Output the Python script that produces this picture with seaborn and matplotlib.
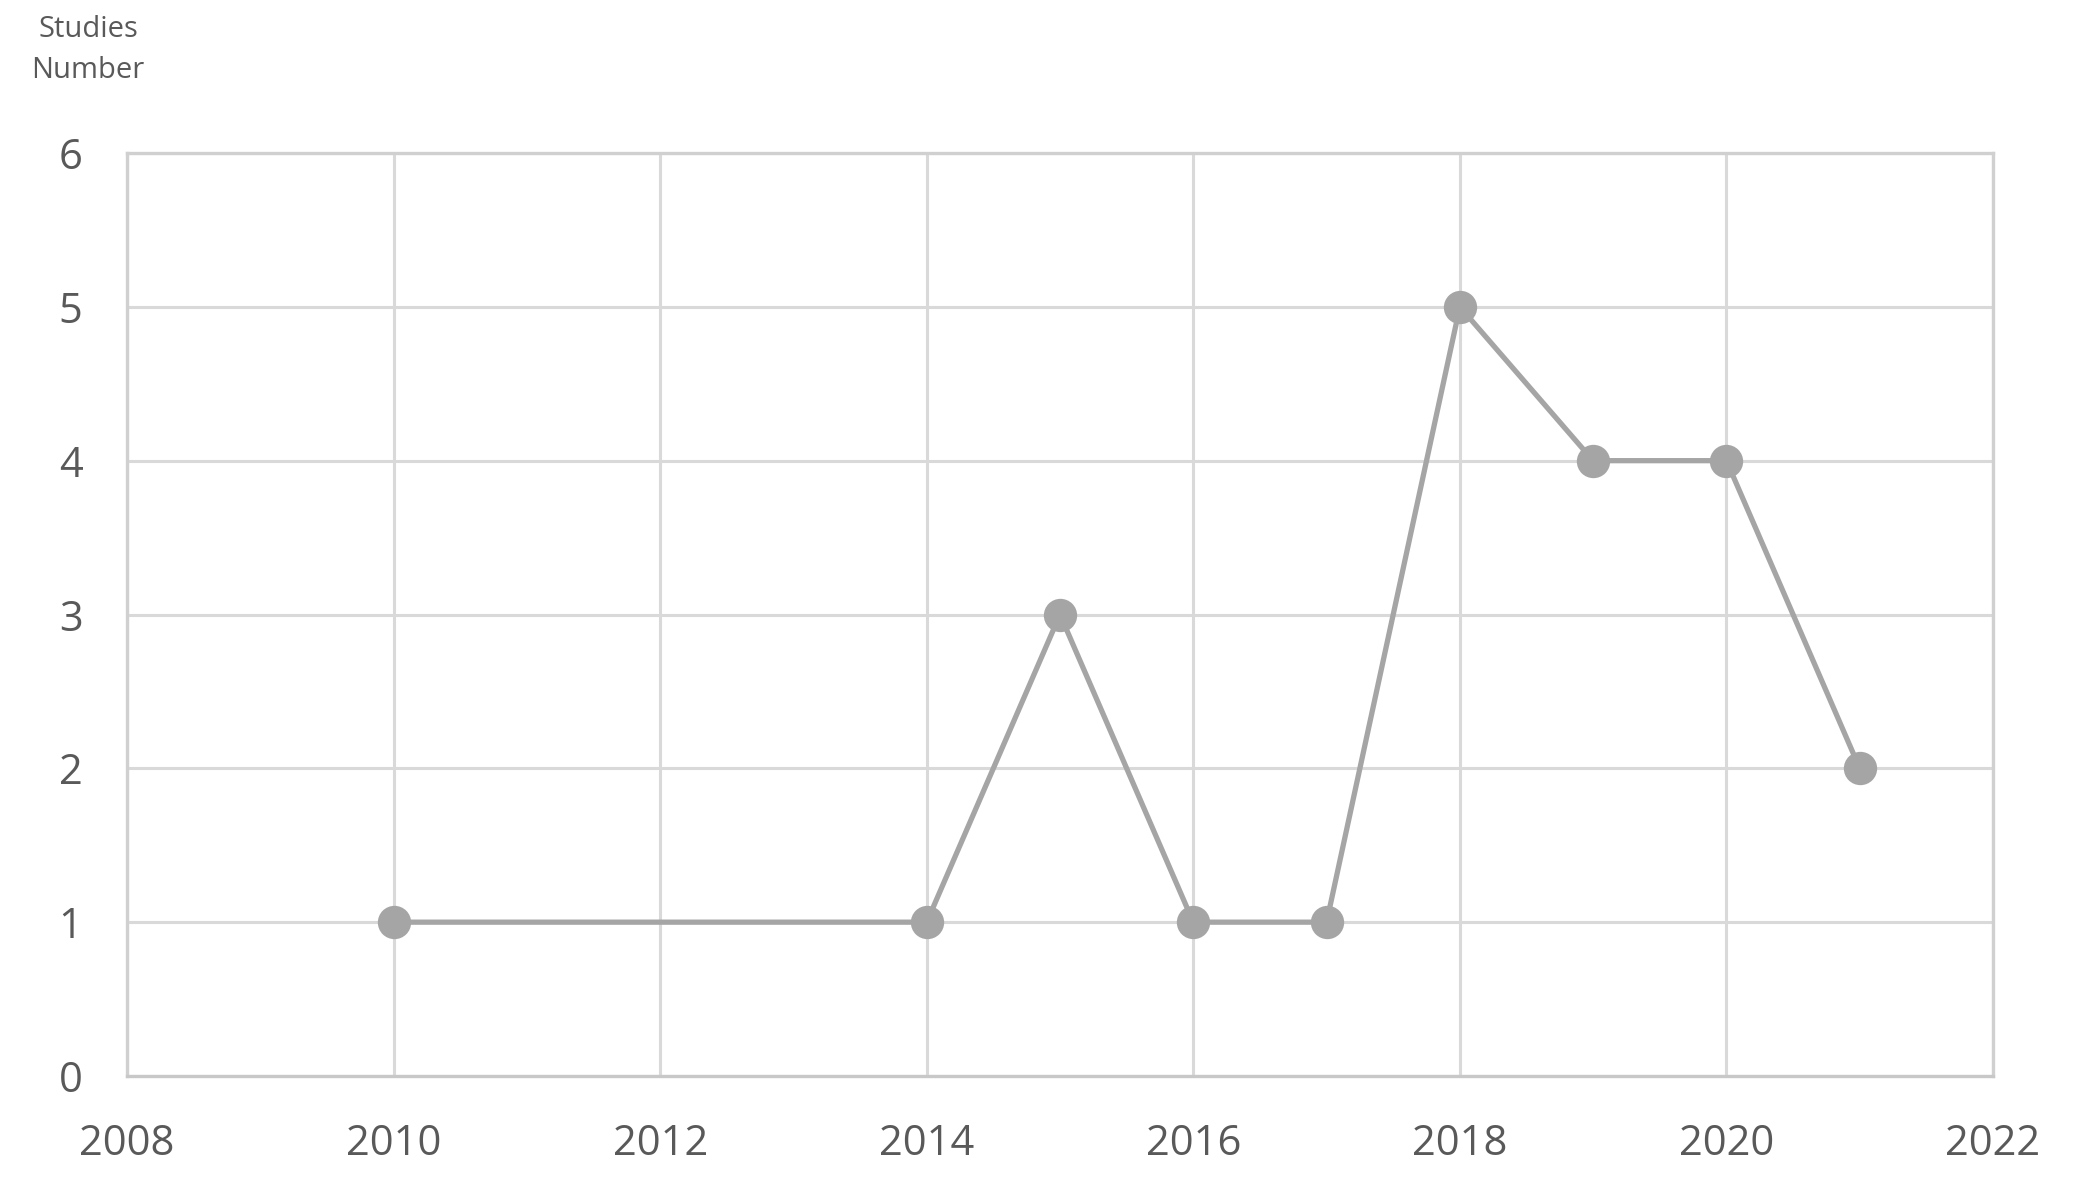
import matplotlib
matplotlib.use("Agg")
import matplotlib.pyplot as plt
import seaborn as sns
import pandas as pd

years = [2010, 2014, 2015, 2016, 2017, 2018, 2019, 2020, 2021]
studies = [1, 1, 3, 1, 1, 5, 4, 4, 2]
x_ticks = [2008, 2010, 2012, 2014, 2016, 2018, 2020, 2022]
y_ticks = [0, 1, 2, 3, 4, 5, 6]

sns.set_theme(style="white")
plt.rcParams['font.family'] = ['Open Sans', 'DejaVu Sans']

df = pd.DataFrame({"Year": years, "Studies": studies})

fig = plt.figure(figsize=(20.76, 11.83), dpi=100)
ax = fig.add_axes([127/2076, 1 - 1076/1183, (1993-127)/2076, (1076-153)/1183])

line_color = "#A5A5A5"
grid_color = "#D9D9D9"
text_color = "#595959"

sns.lineplot(data=df, x="Year", y="Studies", ax=ax, color=line_color,
             linewidth=3.8, marker="o", markersize=24, markeredgewidth=0,
             markerfacecolor=line_color, zorder=3)

ax.set_xlim(2008, 2022)
ax.set_ylim(0, 6)
ax.set_xticks(x_ticks)
ax.set_yticks(y_ticks)
ax.grid(True, color=grid_color, linewidth=2.2, zorder=0)
ax.set_axisbelow(True)
for s in ax.spines.values():
    s.set_color("#D0D0D0")
    s.set_linewidth(2.4)
ax.spines['bottom'].set_color("#C8C8C8")
ax.tick_params(axis='both', length=0, labelsize=30, labelcolor=text_color)
ax.tick_params(axis='x', pad=34)
ax.tick_params(axis='y', pad=32)
ax.set_xlabel("")
ax.set_ylabel("")

fig.text(88/2076, 1 - 50/1183, "Studies\nNumber", ha="center", va="center",
         fontsize=21, color=text_color, linespacing=1.55)

fig.savefig("out.png", dpi=100, facecolor="white")
